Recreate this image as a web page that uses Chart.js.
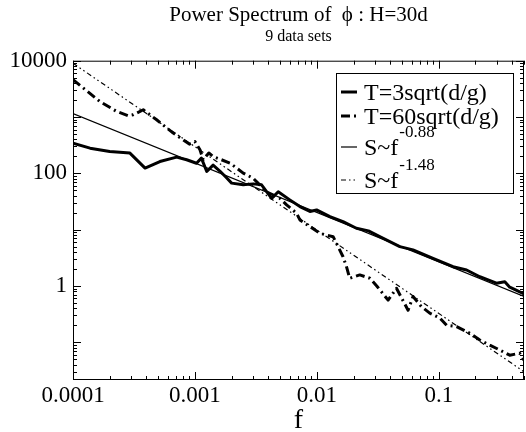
<!DOCTYPE html>
<html>
<head>
<meta charset="utf-8">
<script src="https://cdn.jsdelivr.net/npm/chart.js@4"></script>
<style>
  html, body { margin: 0; padding: 0; background: #fff; }
</style>
</head>
<body>
<canvas id="spectrumChart" width="526" height="432"></canvas>
<script>
// Data (f, S)
const freqShort = [1.0e-4, 1.38e-4, 2.0e-4, 2.93e-4, 3.9e-4, 5.16e-4, 7.07e-4, 8.55e-4, 1.03e-3, 1.13e-3,
  1.25e-3, 1.41e-3, 1.6e-3, 1.8e-3, 2.0e-3, 2.49e-3, 3.0e-3, 3.52e-3, 4.26e-3, 4.82e-3, 6.0e-3, 7.26e-3,
  8.77e-3, 9.95e-3, 0.0128, 0.0164, 0.0211, 0.0265, 0.0328, 0.0479, 0.0615, 0.0897, 0.131, 0.169, 0.217,
  0.297, 0.348, 0.382, 0.5];
const powerShort = [344, 280, 244, 229, 124, 162, 194, 174, 151, 186,
  108, 140, 110, 85, 67, 62.5, 65, 62.5, 36, 47, 33.8, 25.7,
  21, 22.4, 17, 13.9, 10.6, 9.5, 7.5, 5.0, 4.37, 3.1, 2.2, 1.92, 1.46,
  1.12, 1.19, 0.95, 0.72];

const freqLong = [1.0e-4, 1.66e-4, 2.28e-4, 2.84e-4, 3.12e-4, 3.77e-4, 4.85e-4, 6.64e-4, 8.0e-4, 9.0e-4,
  1.0e-3, 1.1e-3, 1.17e-3, 1.3e-3, 1.41e-3, 1.94e-3, 2.49e-3, 3.0e-3, 3.87e-3, 4.98e-3, 5.65e-3, 6.82e-3,
  7.26e-3, 8.77e-3, 0.0106, 0.0136, 0.0145, 0.0164, 0.0175, 0.0186, 0.0225, 0.0272, 0.031, 0.0384, 0.045,
  0.056, 0.0615, 0.072, 0.0843, 0.102, 0.116, 0.14, 0.18, 0.217, 0.262, 0.316, 0.382, 0.461, 0.5];
const powerLong = [4600, 1890, 1255, 1052, 1096, 1345, 893, 519, 394, 330,
  367, 262, 174, 230, 199, 152, 101, 82, 47, 36, 27.5, 19.6,
  14.9, 11.3, 8.6, 7.5, 5.7, 3.3, 2.2, 1.37, 1.57, 1.37, 1.0, 0.56, 0.91,
  0.37, 0.65, 0.43, 0.33, 0.27, 0.20, 0.19, 0.144, 0.11, 0.089, 0.073, 0.059, 0.064, 0.048];

// fitted power laws, end points only
const fitFreq = [1e-4, 0.5];
const fitShort = [1150, 0.65];
const fitLong = [9000, 0.03];

const seriesNames = ['T=3sqrt(d/g)', 'T=60sqrt(d/g)', 'S~f', 'S~f'];
const seriesSup = ['', '', '-0.88', '-1.48'];

const xLimits = [1e-4, 0.5];
const yLimits = [0.0214, 10000];

const serif = "'Liberation Serif', 'DejaVu Serif', serif";

function toPoints(xs, ys) {
  return xs.map((x, i) => ({ x: x, y: ys[i] }));
}

// returns mantissa (1..9) when the tick is a round value, else null
function niceStep(v) {
  const e = Math.floor(Math.log10(v) + 1e-9);
  const m = v / Math.pow(10, e);
  return Math.abs(m - Math.round(m)) < 1e-6 ? Math.round(m) : null;
}

function decadeLabel(v, keep) {
  if (niceStep(v) !== 1) return '';
  const e = Math.round(Math.log10(v));
  if (!keep(e)) return '';
  return e < 0 ? Math.pow(10, e).toFixed(-e) : String(Math.pow(10, e));
}

// frame round the plot with ticks pointing inward on all four sides
const frameTicks = {
  id: 'frameTicks',
  afterDatasetsDraw(chart) {
    const { ctx, chartArea: a, scales } = chart;
    ctx.save();
    ctx.strokeStyle = '#000';
    ctx.lineWidth = 1;
    ctx.strokeRect(a.left + 0.5, a.top + 0.5, a.right - a.left - 1, a.bottom - a.top - 1);
    ctx.beginPath();
    scales.x.ticks.forEach(t => {
      const m = niceStep(t.value);
      if (m === null) return;
      const len = m === 1 ? 8 : 4;
      const px = Math.round(scales.x.getPixelForValue(t.value)) + 0.5;
      ctx.moveTo(px, a.bottom); ctx.lineTo(px, a.bottom - len);
      ctx.moveTo(px, a.top); ctx.lineTo(px, a.top + len);
    });
    scales.y.ticks.forEach(t => {
      const m = niceStep(t.value);
      if (m === null) return;
      const len = m === 1 ? 8 : 4;
      const py = Math.round(scales.y.getPixelForValue(t.value)) + 0.5;
      ctx.moveTo(a.left, py); ctx.lineTo(a.left + len, py);
      ctx.moveTo(a.right, py); ctx.lineTo(a.right - len, py);
    });
    ctx.stroke();
    ctx.restore();
  }
};

// boxed legend with superscript exponents
const boxLegend = {
  id: 'boxLegend',
  afterDraw(chart) {
    const ctx = chart.ctx;
    const box = { x: 336, y: 73, w: 177, h: 120 };
    const rows = [93, 117, 148, 181];
    ctx.save();
    ctx.fillStyle = '#fff';
    ctx.fillRect(box.x, box.y, box.w, box.h);
    ctx.strokeStyle = '#000';
    ctx.lineWidth = 1;
    ctx.strokeRect(box.x + 0.5, box.y + 0.5, box.w, box.h);
    chart.data.datasets.forEach((ds, i) => {
      const y = rows[i];
      ctx.beginPath();
      ctx.setLineDash(ds.borderDash || []);
      ctx.lineWidth = ds.borderWidth;
      ctx.moveTo(341, y - 1);
      ctx.lineTo(357, y - 1);
      ctx.stroke();
      ctx.setLineDash([]);
      ctx.fillStyle = '#000';
      ctx.textBaseline = 'middle';
      ctx.font = '24px ' + serif;
      ctx.fillText(seriesNames[i], 364, y + 1);
      if (seriesSup[i]) {
        const w = ctx.measureText(seriesNames[i]).width;
        ctx.font = '17px ' + serif;
        ctx.fillText(seriesSup[i], 364 + w + 1, y - 15);
      }
    });
    ctx.restore();
  }
};

const chart = new Chart(document.getElementById('spectrumChart'), {
  type: 'line',
  data: {
    datasets: [
      {
        label: seriesNames[0],
        data: toPoints(freqShort, powerShort),
        borderColor: '#000',
        borderWidth: 3,
        borderDash: []
      },
      {
        label: seriesNames[1],
        data: toPoints(freqLong, powerLong),
        borderColor: '#000',
        borderWidth: 3,
        borderDash: [9, 4, 2, 4]
      },
      {
        label: seriesNames[2] + '^' + seriesSup[2],
        data: toPoints(fitFreq, fitShort),
        borderColor: '#000',
        borderWidth: 1.2,
        borderDash: []
      },
      {
        label: seriesNames[3] + '^' + seriesSup[3],
        data: toPoints(fitFreq, fitLong),
        borderColor: '#000',
        borderWidth: 1.2,
        borderDash: [5, 3, 1.5, 3, 1.5, 3]
      }
    ]
  },
  options: {
    responsive: false,
    animation: false,
    devicePixelRatio: 1,
    layout: { padding: { right: 2, bottom: 0 } },
    elements: {
      point: { radius: 0 },
      line: { tension: 0, fill: false, borderJoinStyle: 'round' }
    },
    scales: {
      x: {
        type: 'logarithmic',
        min: xLimits[0],
        max: xLimits[1],
        afterFit: s => { s.height = 52; },
        grid: { display: false, drawTicks: false },
        border: { display: false },
        ticks: {
          autoSkip: false,
          maxRotation: 0,
          padding: 2,
          color: '#000',
          font: { family: serif, size: 23 },
          callback: v => decadeLabel(v, () => true)
        },
        title: {
          display: true,
          text: 'f',
          color: '#000',
          font: { family: serif, size: 28, lineHeight: 0.8 },
          padding: { top: 0, bottom: 0 }
        }
      },
      y: {
        type: 'logarithmic',
        min: yLimits[0],
        max: yLimits[1],
        afterFit: s => { s.width = 73; },
        grid: { display: false, drawTicks: false },
        border: { display: false },
        ticks: {
          autoSkip: false,
          padding: 6,
          color: '#000',
          font: { family: serif, size: 23 },
          callback: v => decadeLabel(v, e => e % 2 === 0)
        }
      }
    },
    plugins: {
      legend: { display: false },
      tooltip: { enabled: false },
      title: {
        display: true,
        fullSize: false,
        text: 'Power Spectrum of  \u03D5 : H=30d',
        color: '#000',
        font: { family: serif, size: 21, weight: 'normal', lineHeight: 1.1 },
        padding: { top: 4, bottom: 0 }
      },
      subtitle: {
        display: true,
        fullSize: false,
        text: '9 data sets',
        color: '#000',
        font: { family: serif, size: 16, lineHeight: 1.1 },
        padding: { top: 1, bottom: 15 }
      }
    }
  },
  plugins: [frameTicks, boxLegend]
});
</script>
</body>
</html>
